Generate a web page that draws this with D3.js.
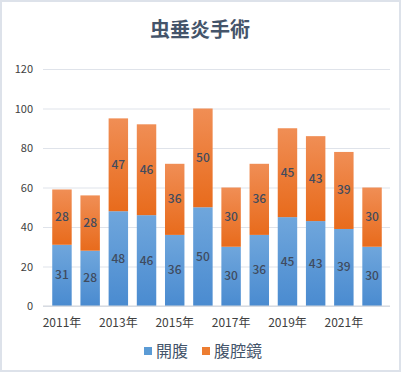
<!DOCTYPE html>
<html>
<head>
<meta charset="utf-8">
<script src="https://cdn.jsdelivr.net/npm/d3@7"></script>
<style>
  body { margin: 0; background: #fff; }
  svg { display: block; font-family: "Noto Sans CJK JP", "Noto Sans", sans-serif; }
</style>
</head>
<body>
<div id="container"></div>
<script>
var years = ['2011年', '2012年', '2013年', '2014年', '2015年', '2016年', '2017年', '2018年', '2019年', '2020年', '2021年', '2022年'];
var kaifuku = [31, 28, 48, 46, 36, 50, 30, 36, 45, 43, 39, 30];
var fukukukyo = [28, 28, 47, 46, 36, 50, 30, 36, 45, 43, 39, 30];
var seriesNames = ['開腹', '腹腔鏡'];
var yTicks = [0, 20, 40, 60, 80, 100, 120];

var W = 401, H = 372;
var svg = d3.select('#container').append('svg')
    .attr('width', W).attr('height', H);

var defs = svg.append('defs');
var gradBlue = defs.append('linearGradient').attr('id', 'gBlue')
    .attr('x1', 0).attr('y1', 0).attr('x2', 0).attr('y2', 1);
gradBlue.append('stop').attr('offset', '0%').attr('stop-color', '#6fa6dc');
gradBlue.append('stop').attr('offset', '100%').attr('stop-color', '#4a8bd0');
var gradOrange = defs.append('linearGradient').attr('id', 'gOrange')
    .attr('x1', 0).attr('y1', 0).attr('x2', 0).attr('y2', 1);
gradOrange.append('stop').attr('offset', '0%').attr('stop-color', '#f08e55');
gradOrange.append('stop').attr('offset', '100%').attr('stop-color', '#e86b1c');
var blur = defs.append('filter').attr('id', 'glow')
    .attr('x', '-10%').attr('y', '-300%').attr('width', '120%').attr('height', '700%');
blur.append('feGaussianBlur').attr('stdDeviation', 4);

// frame
svg.append('rect').attr('x', 1).attr('y', 1).attr('width', W - 2).attr('height', H - 2)
    .attr('fill', '#fff').attr('stroke', '#dde2ea').attr('stroke-width', 2);

var x = d3.scaleBand().domain(years).range([43.5, 390.5]).padding(0.31);
var y = d3.scaleLinear().domain([0, 120]).range([306, 69]);

// title
svg.append('text').attr('x', 200).attr('y', 37).attr('text-anchor', 'middle')
    .attr('font-size', 20).attr('font-weight', 'bold').attr('fill', '#44546a')
    .text('虫垂炎手術');

// grid + y labels
var yAxis = svg.append('g').attr('transform', 'translate(43,0)')
    .call(d3.axisLeft(y).tickValues(yTicks).tickSize(-347).tickPadding(10));
yAxis.select('.domain').remove();
yAxis.selectAll('.tick line').attr('stroke', '#dfe3ea');
yAxis.selectAll('.tick text').attr('font-size', 11).attr('fill', '#404040')
    .attr('font-family', '"Noto Sans CJK JP", sans-serif');

// glow under baseline
svg.append('line').attr('x1', 36).attr('x2', 396).attr('y1', y(0) + 2).attr('y2', y(0) + 2)
    .attr('stroke', '#9fc2e8').attr('stroke-width', 12).attr('filter', 'url(#glow)');

var rows = years.map(function (d, i) { return { year: d, a: kaifuku[i], b: fukukukyo[i] }; });

var g = svg.append('g');
var bars = g.selectAll('g.bar').data(rows).enter().append('g').attr('class', 'bar');
bars.append('rect')
    .attr('x', function (d) { return x(d.year); })
    .attr('width', x.bandwidth())
    .attr('y', function (d) { return y(d.a); })
    .attr('height', function (d) { return y(0) - y(d.a); })
    .attr('fill', 'url(#gBlue)');
bars.append('rect')
    .attr('x', function (d) { return x(d.year); })
    .attr('width', x.bandwidth())
    .attr('y', function (d) { return y(d.a + d.b); })
    .attr('height', function (d) { return y(d.a) - y(d.a + d.b); })
    .attr('fill', 'url(#gOrange)');

// value labels
bars.append('text')
    .attr('x', function (d) { return x(d.year) + x.bandwidth() / 2; })
    .attr('y', function (d) { return (y(0) + y(d.a)) / 2 + 4; })
    .attr('text-anchor', 'middle').attr('font-size', 12).attr('font-weight', 500).attr('fill', '#3f4b5e')
    .text(function (d) { return d.a; });
bars.append('text')
    .attr('x', function (d) { return x(d.year) + x.bandwidth() / 2; })
    .attr('y', function (d) { return (y(d.a) + y(d.a + d.b)) / 2 + 4; })
    .attr('text-anchor', 'middle').attr('font-size', 12).attr('font-weight', 500).attr('fill', '#3f4b5e')
    .text(function (d) { return d.b; });

// baseline
svg.append('line').attr('x1', 43).attr('x2', 390).attr('y1', y(0)).attr('y2', y(0))
    .attr('stroke', '#d0d4da').attr('stroke-width', 1);

// x labels (every other year)
var xAxis = svg.append('g').attr('transform', 'translate(0,' + y(0) + ')')
    .call(d3.axisBottom(x).tickValues(years.filter(function (d, i) { return i % 2 === 0; }))
        .tickSize(0).tickPadding(12));
xAxis.select('.domain').remove();
xAxis.selectAll('.tick text').attr('font-size', 12).attr('fill', '#404040')
    .attr('font-family', '"Noto Sans CJK JP", sans-serif');

// legend
var legend = svg.append('g');
var legendColors = ['#5b9bd5', '#ed7d31'];
var legendX = [144, 202];
seriesNames.forEach(function (name, i) {
    legend.append('rect').attr('x', legendX[i]).attr('y', 347).attr('width', 8).attr('height', 8)
        .attr('fill', legendColors[i]);
    legend.append('text').attr('x', legendX[i] + 12).attr('y', 357)
        .attr('font-size', 16).attr('fill', '#44546a').text(name);
});
</script>
</body>
</html>
